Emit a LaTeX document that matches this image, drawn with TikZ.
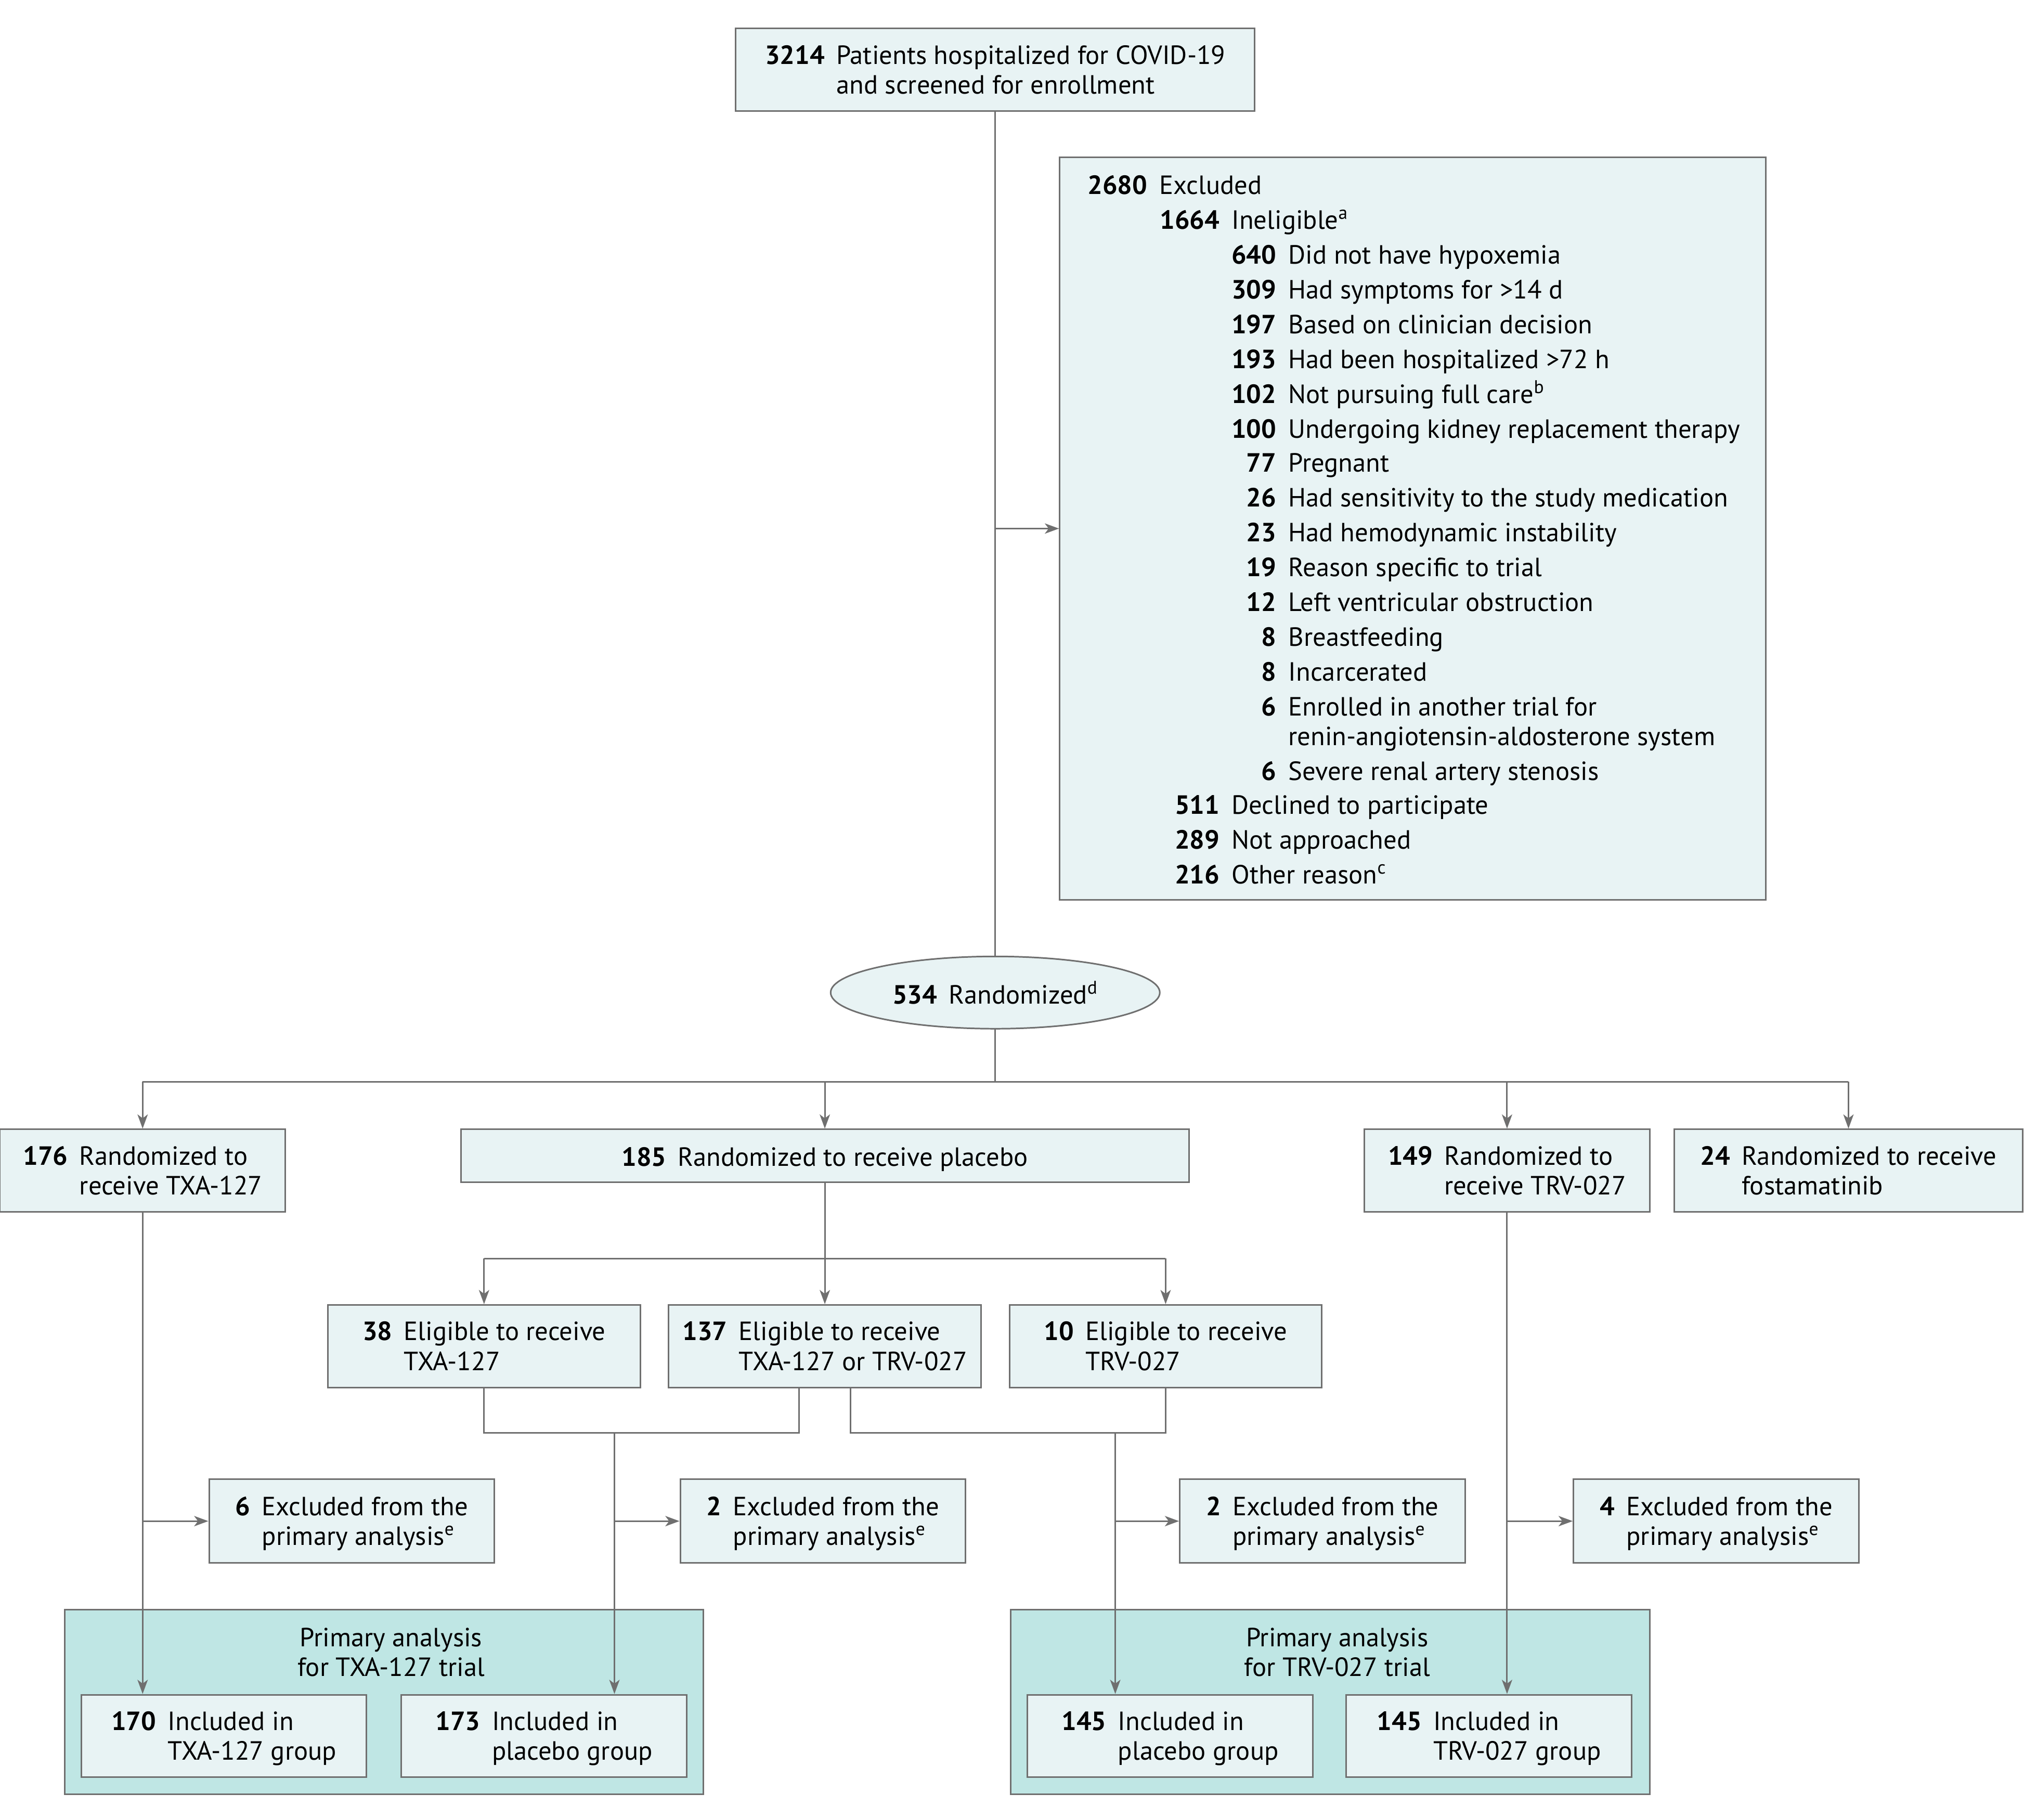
\documentclass[tikz,border=0pt]{standalone}
\usepackage{fontspec}
\setmainfont{PT Sans}
\usetikzlibrary{arrows.meta,shapes.geometric}
\definecolor{boxfill}{HTML}{E8F3F4}
\definecolor{pafill}{HTML}{BFE6E4}
\definecolor{edgegray}{HTML}{6F6F6F}
\newcommand\lowered[1]{\raisebox{-2.5pt}[\height][\depth]{#1}}
\newcommand\numtxt[3]{\lowered{\begin{tabular}{@{}r@{\hspace{9pt}}l@{}}\textbf{#1} & #2\\ & #3\end{tabular}}}
\begin{document}
\begin{tikzpicture}[x=1pt,y=-1pt,
  font=\fontsize{20.4}{23}\selectfont,
  box/.style={draw=edgegray, line width=1.2pt, fill=boxfill, inner sep=0pt},
  pabox/.style={draw=edgegray, line width=1.2pt, fill=pafill, inner sep=0pt},
  conn/.style={draw=edgegray, line width=1.2pt},
  arr/.style={conn, -{Stealth[length=11pt,width=8pt,inset=3pt]}},
  lbl/.style={inner sep=0pt}]
\useasboundingbox (0,0) rectangle (1568,1410);

% primary analysis outer boxes
\node[pabox, minimum width=495pt, minimum height=143pt] (paL) at (297.5,1318.5) {};
\node[pabox, minimum width=495pt, minimum height=143pt] (paR) at (1030.5,1318.5) {};
\node[lbl, align=center] (paLt) at (303,1280) {Primary analysis\\for TXA-127 trial};
\node[lbl, align=center] (paRt) at (1036,1280) {Primary analysis\\for TRV-027 trial};

% top
\node[box, minimum width=402pt, minimum height=64pt] (top) at (771,54) {\numtxt{3214}{Patients hospitalized for COVID-19}{and screened for enrollment}};

% excluded box
\node[box, minimum width=547pt, minimum height=575pt] (excl) at (1094.5,409.5) {};
\node[lbl, anchor=mid east] (x0n) at (889,148) {\textbf{2680}};
\node[lbl, anchor=mid west] (x0t) at (898,148) {Excluded};
\foreach \yy/\nn/\tt [count=\i] in {175/1664/{Ineligible\textsuperscript{a}},628/511/{Declined to participate},655/289/{Not approached},682/216/{Other reason\textsuperscript{c}}}{
  \node[lbl, anchor=mid east] (xa\i n) at (945,\yy) {\textbf{\nn}};
  \node[lbl, anchor=mid west] (xa\i t) at (954,\yy) {\tt};
}
\foreach \yy/\nn/\tt [count=\i] in {202/640/{Did not have hypoxemia},229/309/{Had symptoms for >14 d},256/197/{Based on clinician decision},283/193/{Had been hospitalized >72 h},310/102/{Not pursuing full care\textsuperscript{b}},337/100/{Undergoing kidney replacement therapy},363/77/{Pregnant},390/26/{Had sensitivity to the study medication},417/23/{Had hemodynamic instability},444/19/{Reason specific to trial},471/12/{Left ventricular obstruction},498/8/{Breastfeeding},525/8/{Incarcerated},552/6/{Enrolled in another trial for},602/6/{Severe renal artery stenosis}}{
  \node[lbl, anchor=mid east] (xb\i n) at (989,\yy) {\textbf{\nn}};
  \node[lbl, anchor=mid west] (xb\i t) at (998,\yy) {\tt};
}
\node[lbl, anchor=mid west] (xb14t2) at (998,575) {renin-angiotensin-aldosterone system};

% randomized
\node[ellipse, draw=edgegray, line width=1.2pt, fill=boxfill, minimum width=255pt, minimum height=56pt, inner sep=0pt] (rand) at (771,769) {\textbf{534}\hspace{9pt}Randomized\textsuperscript{d}};

% randomization groups
\node[box, minimum width=221pt, minimum height=64pt] (txa) at (110.5,907) {\numtxt{176}{Randomized to}{receive TXA-127}};
\node[box, minimum width=564pt, minimum height=41pt] (plac) at (639,895.5) {\lowered{\textbf{185}\hspace{9pt}Randomized to receive placebo}};
\node[box, minimum width=221pt, minimum height=64pt] (trv) at (1167.5,907) {\numtxt{149}{Randomized to}{receive TRV-027}};
\node[box, minimum width=270pt, minimum height=64pt] (fos) at (1432,907) {\numtxt{24}{Randomized to receive}{fostamatinib}};

% eligibility
\node[box, minimum width=242pt, minimum height=64pt] (e38) at (375,1043) {\numtxt{38}{Eligible to receive}{TXA-127}};
\node[box, minimum width=242pt, minimum height=64pt] (e137) at (639,1043) {\numtxt{137}{Eligible to receive}{TXA-127 or TRV-027}};
\node[box, minimum width=242pt, minimum height=64pt] (e10) at (903,1043) {\numtxt{10}{Eligible to receive}{TRV-027}};

% excluded from analysis
\node[box, minimum width=221pt, minimum height=65pt] (ex6) at (272.5,1178.5) {\numtxt{6}{Excluded from the}{primary analysis\textsuperscript{e}}};
\node[box, minimum width=221pt, minimum height=65pt] (ex2a) at (637.5,1178.5) {\numtxt{2}{Excluded from the}{primary analysis\textsuperscript{e}}};
\node[box, minimum width=221pt, minimum height=65pt] (ex2b) at (1024.5,1178.5) {\numtxt{2}{Excluded from the}{primary analysis\textsuperscript{e}}};
\node[box, minimum width=221pt, minimum height=65pt] (ex4) at (1329.5,1178.5) {\numtxt{4}{Excluded from the}{primary analysis\textsuperscript{e}}};

% included
\node[box, minimum width=221pt, minimum height=64pt] (i170) at (173.5,1345) {\numtxt{170}{Included in}{TXA-127 group}};
\node[box, minimum width=221pt, minimum height=64pt] (i173) at (421.5,1345) {\numtxt{173}{Included in}{placebo group}};
\node[box, minimum width=221pt, minimum height=64pt] (i145p) at (906.5,1345) {\numtxt{145}{Included in}{placebo group}};
\node[box, minimum width=221pt, minimum height=64pt] (i145t) at (1153.5,1345) {\numtxt{145}{Included in}{TRV-027 group}};

% connectors
\coordinate (b1) at (771,838);
\coordinate (b2) at (639,975);
\coordinate (j1) at (476,1110);
\coordinate (j2) at (864,1110);
\coordinate (k1) at (619,1110);
\coordinate (k2) at (659,1110);

\draw[conn] (top.south) -- (rand.north);
\draw[arr] (top.south |- excl.west) -- (excl.west);
\draw[conn] (rand.south) -- (b1);
\draw[conn] (txa.north |- b1) -- (fos.north |- b1);
\draw[arr] (txa.north |- b1) -- (txa.north);
\draw[arr] (plac.north |- b1) -- (plac.north);
\draw[arr] (trv.north |- b1) -- (trv.north);
\draw[arr] (fos.north |- b1) -- (fos.north);

\draw[conn] (plac.south) -- (b2);
\draw[conn] (e38.north |- b2) -- (e10.north |- b2);
\draw[arr] (e38.north |- b2) -- (e38.north);
\draw[arr] (e137.north |- b2) -- (e137.north);
\draw[arr] (e10.north |- b2) -- (e10.north);

\draw[conn] (e38.south) -- (e38.south |- k1) -- (k1) -- (k1 |- e137.south);
\draw[conn] (k2 |- e137.south) -- (k2) -- (e10.south |- k2) -- (e10.south);

\draw[arr] (txa.south) -- (txa.south |- i170.north);
\draw[arr] (j1) -- (j1 |- i173.north);
\draw[arr] (j2) -- (j2 |- i145p.north);
\draw[arr] (trv.south) -- (trv.south |- i145t.north);

\draw[arr] (txa.south |- ex6.west) -- (ex6.west);
\draw[arr] (j1 |- ex2a.west) -- (ex2a.west);
\draw[arr] (j2 |- ex2b.west) -- (ex2b.west);
\draw[arr] (trv.south |- ex4.west) -- (ex4.west);
\end{tikzpicture}
\end{document}
